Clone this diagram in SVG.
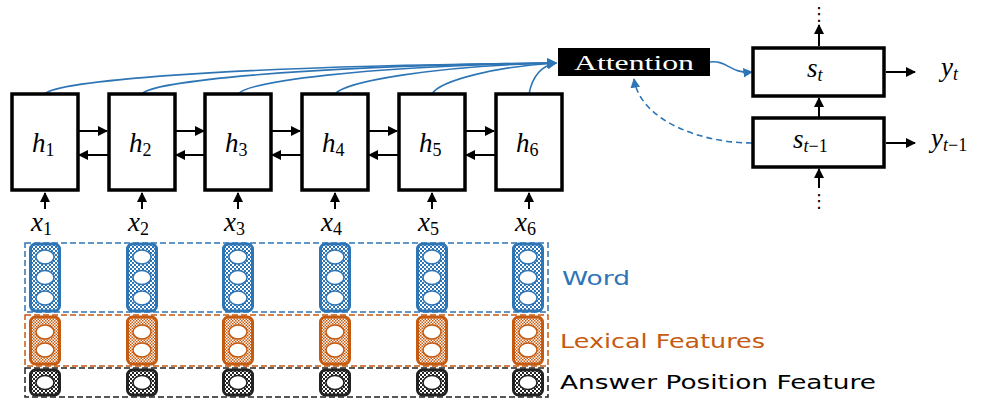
<svg xmlns="http://www.w3.org/2000/svg" width="989" height="400" viewBox="0 0 989 400">
<style>
.box{fill:#fff;stroke:#000;stroke-width:3.5}
.arr{stroke:#000;stroke-width:2;fill:none;marker-end:url(#ah)}
.blue{stroke:#2E75B6;stroke-width:1.6;fill:none}
.math{font-family:"Liberation Serif","DejaVu Serif",serif;font-style:italic;fill:#000;font-size:27px}
.sub{font-style:normal;font-size:18px}
.subi{font-style:italic;font-size:18px}
.lbl{font-family:"DejaVu Sans","Noto Sans",sans-serif;font-size:20px}
.dot{font-family:"DejaVu Sans",sans-serif;font-size:18px;fill:#000}
</style>
<defs>
<marker id="ah" viewBox="0 0 10 10" refX="9" refY="5" markerWidth="5" markerHeight="5" orient="auto" markerUnits="strokeWidth"><path d="M0,0 L10,5 L0,10 z" fill="#000"/></marker>
<marker id="bh" viewBox="0 0 10 10" refX="9" refY="5" markerWidth="6" markerHeight="6" orient="auto" markerUnits="strokeWidth"><path d="M0,0 L10,5 L0,10 z" fill="#2E75B6"/></marker>
<pattern id="pb" width="4" height="4" patternUnits="userSpaceOnUse"><rect width="4" height="4" fill="#fff"/><rect width="2" height="2" fill="#2E75B6"/><rect x="2" y="2" width="2" height="2" fill="#2E75B6"/></pattern>
<pattern id="po" width="3" height="3" patternUnits="userSpaceOnUse"><rect width="3" height="3" fill="#fff"/><rect width="1.5" height="1.5" fill="#C55A11"/><rect x="1.5" y="1.5" width="1.5" height="1.5" fill="#C55A11"/></pattern>
<pattern id="pk" width="4" height="4" patternUnits="userSpaceOnUse"><rect width="4" height="4" fill="#fff"/><rect width="2" height="2" fill="#222"/><rect x="2" y="2" width="2" height="2" fill="#222"/></pattern>
<g id="wcell"><rect x="-14.5" y="0" width="29" height="67" rx="5" fill="url(#pb)" stroke="#2E75B6" stroke-width="3"/><ellipse cx="0" cy="13" rx="9" ry="7" fill="#fff" stroke="#2E75B6" stroke-width="1.5"/><ellipse cx="0" cy="33.5" rx="9" ry="7" fill="#fff" stroke="#2E75B6" stroke-width="1.5"/><ellipse cx="0" cy="54" rx="9" ry="7" fill="#fff" stroke="#2E75B6" stroke-width="1.5"/></g>
<g id="lcell"><rect x="-14.5" y="0" width="29" height="47" rx="5" fill="url(#po)" stroke="#C55A11" stroke-width="3"/><ellipse cx="0" cy="15" rx="9" ry="7" fill="#fff" stroke="#C55A11" stroke-width="1.5"/><ellipse cx="0" cy="33" rx="9" ry="7" fill="#fff" stroke="#C55A11" stroke-width="1.5"/></g>
<g id="acell"><rect x="-14.5" y="0" width="29" height="25" rx="5" fill="url(#pk)" stroke="#222" stroke-width="3"/><ellipse cx="0" cy="12.5" rx="9" ry="7" fill="#fff" stroke="#222" stroke-width="1.5"/></g>
</defs>
<rect width="989" height="400" fill="#fff"/>

<g id="connectors">
<path class="blue" marker-end="url(#bh)" d="M45,94 C55,82 210,66 556,63"/>
<path class="blue" marker-end="url(#bh)" d="M142,94 C152,82 290,66 556,63"/>
<path class="blue" marker-end="url(#bh)" d="M238,94 C248,82 360,66 556,63"/>
<path class="blue" marker-end="url(#bh)" d="M335,94 C345,82 430,66 556,63"/>
<path class="blue" marker-end="url(#bh)" d="M432,94 C440,80 500,66 556,63"/>
<path class="blue" marker-end="url(#bh)" d="M529,94 C532,78 540,66 556,63"/>
<path class="blue" marker-end="url(#bh)" d="M710,62 C728,60 730,74 752,72"/>
<path class="blue" stroke-dasharray="6,4" marker-end="url(#bh)" d="M752,143 C700,143 640,120 634,79"/>
<line class="arr" x1="78" y1="131" x2="107" y2="131"/>
<line class="arr" x1="175" y1="131" x2="204" y2="131"/>
<line class="arr" x1="271" y1="131" x2="300" y2="131"/>
<line class="arr" x1="368" y1="131" x2="397" y2="131"/>
<line class="arr" x1="465" y1="131" x2="494" y2="131"/>
<line class="arr" x1="108" y1="155" x2="79" y2="155"/>
<line class="arr" x1="205" y1="155" x2="176" y2="155"/>
<line class="arr" x1="301" y1="155" x2="272" y2="155"/>
<line class="arr" x1="398" y1="155" x2="369" y2="155"/>
<line class="arr" x1="495" y1="155" x2="466" y2="155"/>
<line class="arr" x1="45" y1="209" x2="45" y2="193"/>
<line class="arr" x1="142" y1="209" x2="142" y2="193"/>
<line class="arr" x1="238" y1="209" x2="238" y2="193"/>
<line class="arr" x1="335" y1="209" x2="335" y2="193"/>
<line class="arr" x1="432" y1="209" x2="432" y2="193"/>
<line class="arr" x1="529" y1="209" x2="529" y2="193"/>
<line class="arr" x1="819" y1="118" x2="819" y2="98"/>
<line class="arr" x1="819" y1="46" x2="819" y2="25"/>
<line class="arr" x1="819" y1="188" x2="819" y2="169"/>
<line class="arr" x1="886" y1="72" x2="915" y2="72"/>
<line class="arr" x1="886" y1="143" x2="915" y2="143"/>
</g>

<g id="h1"><rect class="box" x="12" y="94" width="66" height="96"/><text class="math" x="32" y="152">h<tspan class="sub" dy="4">1</tspan></text></g>
<g id="h2"><rect class="box" x="109" y="94" width="66" height="96"/><text class="math" x="129" y="152">h<tspan class="sub" dy="4">2</tspan></text></g>
<g id="h3"><rect class="box" x="205" y="94" width="66" height="96"/><text class="math" x="225" y="152">h<tspan class="sub" dy="4">3</tspan></text></g>
<g id="h4"><rect class="box" x="302" y="94" width="66" height="96"/><text class="math" x="322" y="152">h<tspan class="sub" dy="4">4</tspan></text></g>
<g id="h5"><rect class="box" x="399" y="94" width="66" height="96"/><text class="math" x="419" y="152">h<tspan class="sub" dy="4">5</tspan></text></g>
<g id="h6"><rect class="box" x="496" y="94" width="66" height="96"/><text class="math" x="516" y="152">h<tspan class="sub" dy="4">6</tspan></text></g>

<g id="xlabels">
<text class="math" x="31" y="231">x<tspan class="sub" dy="4">1</tspan></text>
<text class="math" x="128" y="231">x<tspan class="sub" dy="4">2</tspan></text>
<text class="math" x="224" y="231">x<tspan class="sub" dy="4">3</tspan></text>
<text class="math" x="321" y="231">x<tspan class="sub" dy="4">4</tspan></text>
<text class="math" x="418" y="231">x<tspan class="sub" dy="4">5</tspan></text>
<text class="math" x="515" y="231">x<tspan class="sub" dy="4">6</tspan></text>
</g>

<g id="attention"><rect x="558" y="48" width="152" height="28" fill="#000"/><text x="634" y="70" text-anchor="middle" font-family="Liberation Serif,serif" font-size="21" fill="#fff" textLength="120" lengthAdjust="spacingAndGlyphs">Attention</text></g>

<g id="st"><rect class="box" x="753" y="48" width="131" height="48"/><text class="math" x="807" y="77">s<tspan class="subi" dy="4">t</tspan></text></g>
<g id="st1"><rect class="box" x="753" y="118" width="131" height="49"/><text class="math" x="793" y="148">s<tspan class="subi" dy="4">t</tspan><tspan class="sub">−1</tspan></text></g>
<g id="yt"><text class="math" x="941" y="76">y<tspan class="subi" dy="4">t</tspan></text></g>
<g id="yt1"><text class="math" x="931" y="147">y<tspan class="subi" dy="4">t</tspan><tspan class="sub">−1</tspan></text></g>
<g id="dots"><text class="dot" x="819" y="20" text-anchor="middle">⋮</text><text class="dot" x="819" y="207" text-anchor="middle">⋮</text></g>

<g id="word">
<rect x="25" y="243" width="523" height="69" fill="none" stroke="#2E75B6" stroke-width="1.5" stroke-dasharray="6,3"/>
<use href="#wcell" x="45" y="244"/><use href="#wcell" x="142" y="244"/><use href="#wcell" x="238" y="244"/><use href="#wcell" x="335" y="244"/><use href="#wcell" x="432" y="244"/><use href="#wcell" x="528" y="244"/>
<text class="lbl" x="562" y="285" fill="#2E75B6" textLength="68" lengthAdjust="spacingAndGlyphs">Word</text>
</g>
<g id="lexical">
<rect x="25" y="315" width="523" height="51" fill="none" stroke="#C55A11" stroke-width="1.5" stroke-dasharray="6,3"/>
<use href="#lcell" x="45" y="317"/><use href="#lcell" x="142" y="317"/><use href="#lcell" x="238" y="317"/><use href="#lcell" x="335" y="317"/><use href="#lcell" x="432" y="317"/><use href="#lcell" x="528" y="317"/>
<text class="lbl" x="560" y="348" fill="#C55A11" textLength="205" lengthAdjust="spacingAndGlyphs">Lexical Features</text>
</g>
<g id="answer">
<rect x="25" y="368" width="523" height="29" fill="none" stroke="#222" stroke-width="1.5" stroke-dasharray="6,3"/>
<use href="#acell" x="45" y="370"/><use href="#acell" x="142" y="370"/><use href="#acell" x="238" y="370"/><use href="#acell" x="335" y="370"/><use href="#acell" x="432" y="370"/><use href="#acell" x="528" y="370"/>
<text class="lbl" x="560" y="389" fill="#000" textLength="316" lengthAdjust="spacingAndGlyphs">Answer Position Feature</text>
</g>
</svg>
